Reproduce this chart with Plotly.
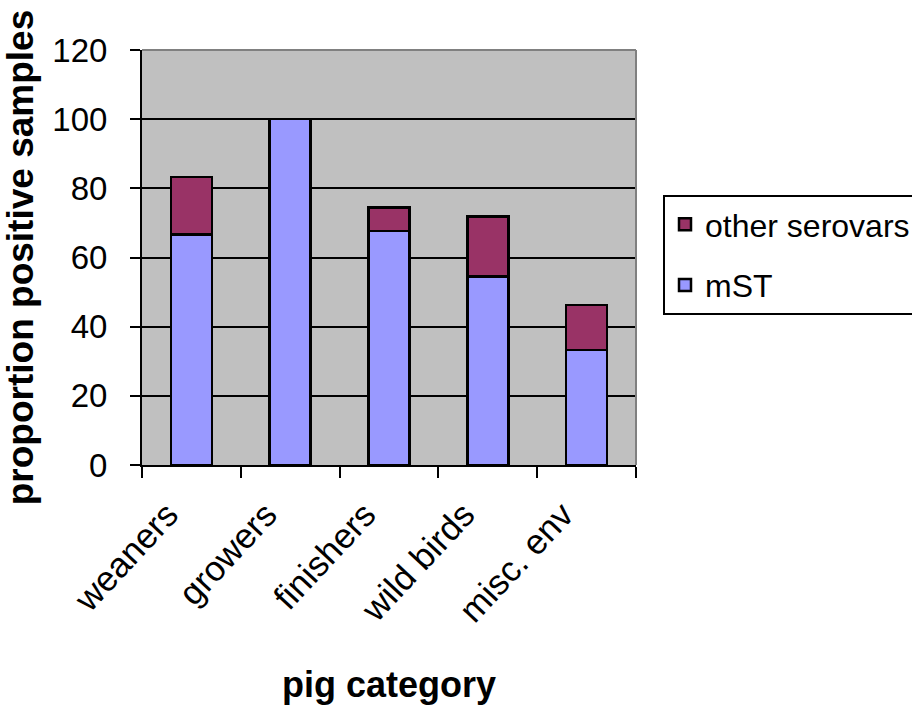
import plotly.graph_objects as go

# Proportion of positive samples per category, split by serovar
categories = ["weaners", "growers", "finishers", "wild birds", "misc. env"]
mst = [66.7, 100.0, 67.7, 54.5, 33.3]
other_serovars = [16.6, 0.0, 6.8, 17.4, 12.9]
y_ticks = [0, 20, 40, 60, 80, 100, 120]

MST_COLOR = "#9999FF"
OTHER_COLOR = "#993366"
FONT = "Liberation Sans, Arial, sans-serif"

fig = go.Figure()
fig.add_trace(go.Bar(
    name="mST", x=categories, y=mst, legendgroup="mst", legendrank=2,
    marker=dict(color=MST_COLOR, line=dict(color="black", width=2.5)),
))
fig.add_trace(go.Bar(
    name="other serovars", x=categories, y=other_serovars, legendgroup="other", legendrank=1,
    marker=dict(color=OTHER_COLOR, line=dict(color="black", width=2.5)),
))

fig.update_layout(
    width=912, height=705,
    margin=dict(l=142, r=276, t=50, b=240, autoexpand=False),
    barmode="stack", bargap=0.585,
    plot_bgcolor="#C0C0C0", paper_bgcolor="white",
    font=dict(family=FONT, color="black"),
    legend=dict(
        x=(663 - 142) / 494, y=(465 - 195) / 415, xanchor="left", yanchor="top",
        bordercolor="black", borderwidth=2, bgcolor="white",
        font=dict(size=32, family=FONT), traceorder="grouped",
        tracegroupgap=16, itemwidth=30,
    ),
    shapes=[
        dict(type="line", xref="paper", yref="paper", x0=0, x1=1, y0=1, y1=1,
             line=dict(color="#808080", width=2), layer="above"),
        dict(type="line", xref="paper", yref="paper", x0=1, x1=1, y0=0, y1=1,
             line=dict(color="#808080", width=2), layer="above"),
    ],
)

fig.update_yaxes(
    range=[0, 120], tickvals=y_ticks, showgrid=True, gridcolor="black", gridwidth=2,
    zeroline=False, showline=True, linecolor="black", linewidth=2,
    ticks="outside", ticklen=10, tickwidth=2, tickcolor="black",
    ticklabelstandoff=16, tickfont=dict(size=33),
    title=dict(text="<b>proportion positive samples</b>", font=dict(size=37), standoff=14),
)
fig.update_xaxes(
    type="category", tickson="boundaries", showgrid=False,
    showline=True, linecolor="black", linewidth=2,
    ticks="outside", ticklen=11, tickwidth=2, tickcolor="black",
    tickangle=-47, tickfont=dict(size=35), ticklabelstandoff=13, ticklabelshift=-24,
    title=dict(text="<b>pig category</b>", font=dict(size=36), standoff=52),
)

fig.write_html("out.html")
